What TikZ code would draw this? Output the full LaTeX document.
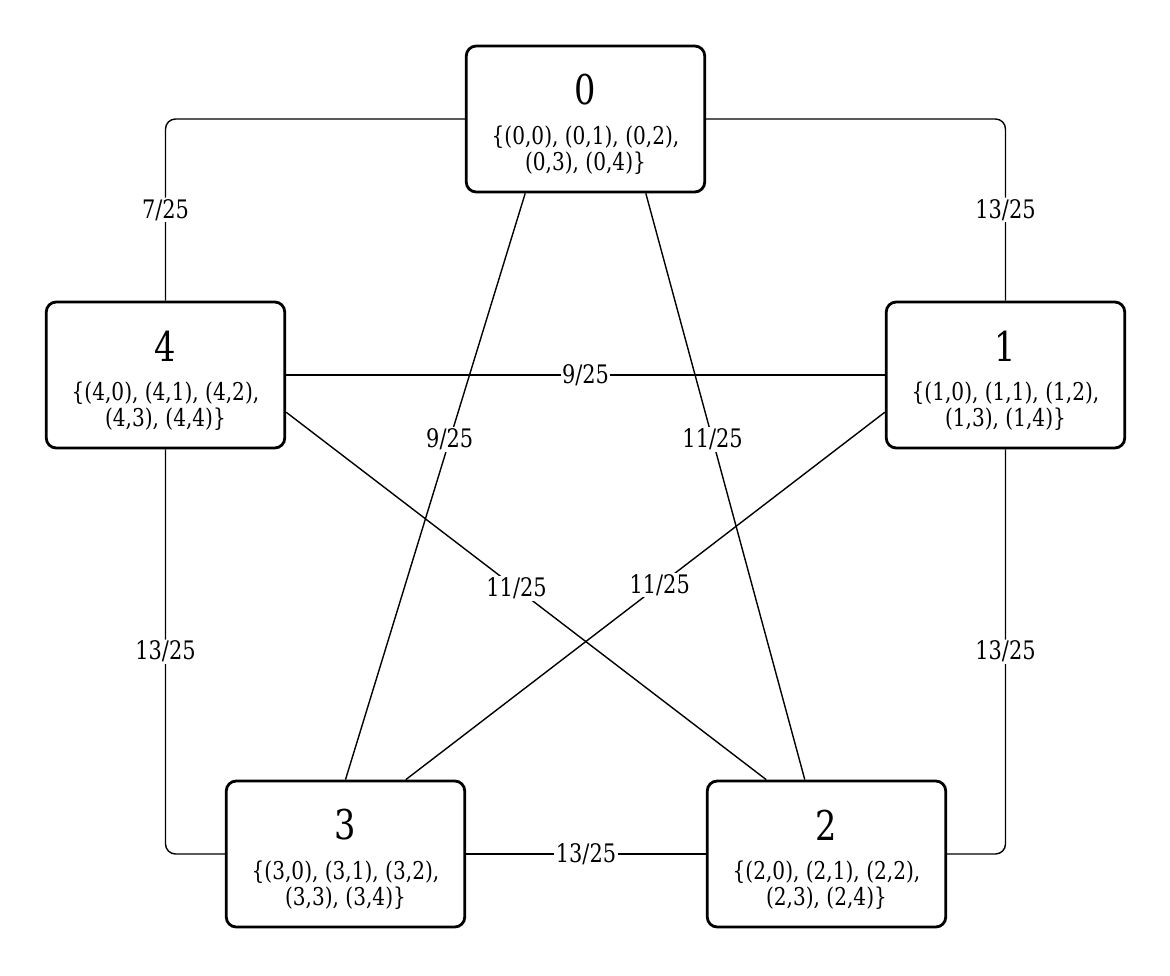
\documentclass[tikz,border=0pt]{standalone}
\usepackage{fontspec}
\setmainfont{DejaVu Serif}[FakeStretch=0.82]
\usetikzlibrary{calc}
\tikzset{
  box/.style={draw, line width=2.8pt, rounded corners=10pt, minimum width=238.5pt, minimum height=146pt, inner sep=0pt},
  num/.style={inner sep=0pt, font=\fontsize{41}{44}\selectfont},
  setl/.style={inner sep=0pt, align=center, font=\fontsize{24.5}{26.5}\selectfont},
  edge/.style={line width=1.4pt},
  wl/.style={fill=white, inner sep=1.5pt, font=\fontsize{25.5}{28}\selectfont},
}
\begin{document}
\begin{tikzpicture}[x=1pt, y=-1pt]
\useasboundingbox (0,0) rectangle (1170,975);
% boxes
\node[box] (n0) at (585.5,119) {};
\node[box] (n4) at (165.5,375) {};
\node[box] (n1) at (1005.5,375) {};
\node[box] (n3) at (345.5,854) {};
\node[box] (n2) at (826.5,854) {};
% texts
\foreach \n in {0,1,2,3,4}{
  \node[num] (t\n) at ($(n\n.center)+(0,-29)$) {\n};
  \node[setl] (s\n) at ($(n\n.center)+(0,31)$) {\{(\n,0), (\n,1), (\n,2),\\(\n,3), (\n,4)\}};
}
% anchor points
\coordinate (a0l) at ($(n0.south west)!0.25!(n0.south east)$);
\coordinate (a0r) at ($(n0.south west)!0.75!(n0.south east)$);
\coordinate (a3r) at ($(n3.north west)!0.75!(n3.north east)$);
\coordinate (a2l) at ($(n2.north west)!0.25!(n2.north east)$);
\coordinate (a2m) at ($(n2.north west)!0.41!(n2.north east)$);
\coordinate (a4) at ($(n4.north east)!0.75!(n4.south east)$);
\coordinate (a1) at ($(n1.north west)!0.75!(n1.south west)$);
% outer edges
\draw[edge, rounded corners=10pt] (n0.east) -| (n1.north) node[wl, pos=0.75] {13/25};
\draw[edge, rounded corners=10pt] (n0.west) -| (n4.north) node[wl, pos=0.75] {7/25};
\draw[edge, rounded corners=10pt] (n1.south) |- (n2.east) node[wl, pos=0.25] {13/25};
\draw[edge, rounded corners=10pt] (n4.south) |- (n3.west) node[wl, pos=0.25] {13/25};
\draw[edge] (n3.east) -- (n2.west) node[wl, midway] {13/25};
\draw[edge] (n4.east) -- (n1.west) node[wl, midway] {9/25};
% diagonals
\draw[edge] (a0l) -- (n3.north) node[wl, pos=0.42] {9/25};
\draw[edge] (a0r) -- (a2m) node[wl, pos=0.42] {11/25};
\draw[edge] (a4) -- (a2l) node[wl, pos=0.48] {11/25};
\draw[edge] (a1) -- (a3r) node[wl, pos=0.47] {11/25};
\end{tikzpicture}
\end{document}
